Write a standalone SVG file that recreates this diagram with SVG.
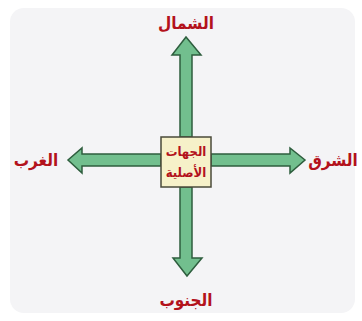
<svg xmlns="http://www.w3.org/2000/svg" width="362" height="321" viewBox="0 0 362 321">
<style>
.arrow{fill:#72bf8e;stroke:#2e5e3e;stroke-width:1.5;stroke-linejoin:miter}
.lbl{font-family:"DejaVu Sans Condensed","DejaVu Sans",sans-serif;font-weight:bold;font-size:17px;fill:#b3121c;text-anchor:middle}
.ctr{font-family:"DejaVu Sans Condensed","DejaVu Sans",sans-serif;font-weight:bold;font-size:13px;fill:#b3121c;text-anchor:middle}
</style>
<rect x="0" y="0" width="362" height="321" fill="#ffffff"/>
<rect x="10" y="8" width="345" height="305" rx="14" fill="#f4f4f6"/>
<g id="connectors">
<polygon class="arrow" points="180,137 180,55 172,55 186,37 201,55 192,55 192,137"/>
<polygon class="arrow" points="180,187 180,258 173,258 187,276 202,258 192,258 192,187"/>
<polygon class="arrow" points="161,154 82,154 82,148 68,160 82,173 82,166 161,166"/>
<polygon class="arrow" points="211,154 290,154 290,148 305,160 290,173 290,166 211,166"/>
</g>
<g id="center">
<rect x="161" y="137" width="50" height="50" fill="#f6f1c9" stroke="#4a4a3a" stroke-width="1.5"/>
<text class="ctr" x="186" y="156">الجهات</text>
<text class="ctr" x="186" y="177">الأصلية</text>
</g>
<g id="north"><text class="lbl" x="186" y="29">الشمال</text></g>
<g id="south"><text class="lbl" x="186" y="306">الجنوب</text></g>
<g id="west"><text class="lbl" x="36" y="166">الغرب</text></g>
<g id="east"><text class="lbl" x="333" y="166">الشرق</text></g>
</svg>
